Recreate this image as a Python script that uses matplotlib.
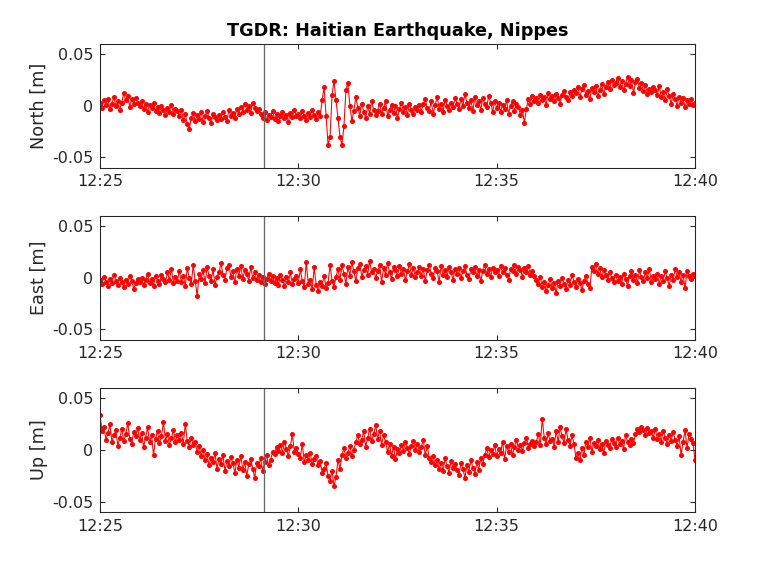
import numpy as np
import matplotlib
matplotlib.use('Agg')
import matplotlib.pyplot as plt
import matplotlib.dates as mdates

# 3 s samples from 12:25:00 to 12:40:00, displacement in mm
north_mm = [
    3, -2, 5, 1, 6, -3, 2, 8, 0, 4, -4, 3, 12, 5, 9, -1, 6, 2, 7, 3,
    0, 4, -3, 2, -6, 1, -2, 3, -5, -1, -7, 0, -4, -9, -2, -6, 1, -8, -3, -5,
    -10, -4, -14, -8, -18, -23, -12, -7, -15, -9, -13, -6, -16, -10, -5, -12, -17, -8, -11, -14,
    -9, -13, -6, -11, -15, -4, -10, -7, -12, -3, -8, -1, -6, 2, -4, 0, -7, 3, -2, -5,
    -3, -8, -12, -6, -14, -9, -11, -5, -13, -8, -15, -10, -6, -12, -9, -16, -7, -11, -4, -10,
    -8, -12, -5, -10, -14, -7, -11, -4, -9, -13, -6, -10, 5, 18, -10, -38, -30, 10, 24, 5,
    -12, -30, -38, -20, 15, 22, 0, -15, -5, 8, -2, -10, 2, -6, -12, 0, -8, 4, -4, -9,
    -5, 2, -8, -2, 4, -10, -4, 1, -7, 0, -12, -3, 3, -6, -1, -9, 2, -4, -8, -1,
    -4, 1, -6, 2, 6, -2, -5, 4, -8, 1, 8, -3, 2, -6, 5, 0, -4, 3, -1, 7,
    2, -3, 6, 0, 11, 3, -2, 5, -5, 8, 1, 4, -4, 7, 2, -1, 9, 3, -6, 4,
    -2, 3, -6, 1, -3, 5, -8, 0, 4, -5, 2, -1, -9, -4, -17, -3, 6, 2, 9, 4,
    7, 3, 10, 5, 8, 1, 12, 6, 9, 4, 11, 7, 2, 10, 14, 8, 5, 13, 9, 15,
    12, 18, 8, 16, 20, 10, 14, 6, 17, 13, 19, 9, 15, 21, 11, 18, 23, 16, 25, 20,
    22, 27, 18, 24, 15, 21, 28, 19, 25, 12, 23, 26, 17, 22, 14, 20, 11, 16, 13, 18,
    15, 10, 19, 8, 13, 5, 16, 9, 2, 11, 6, 0, 8, 3, 7, -1, 5, 2, 6, 1,
    3,
]
east_mm = [
    -2, -6, 1, -4, -8, -1, -5, 3, -3, -7, 0, -4, -9, -2, -6, 2, -3, -11, -5, -1,
    -4, 0, -7, -2, 4, -5, -1, -8, 2, -3, -6, 3, -1, -4, 5, -2, 8, -5, 1, -3,
    6, -4, 2, -8, 9, 0, -6, 12, -3, -18, 4, -1, 7, -5, 10, 2, -3, 8, -7, 1,
    5, 14, 3, -2, 9, 12, 1, 6, -4, 8, 2, 11, -1, 7, 4, -3, 10, 0, 5, -2,
    3, -4, 1, -6, -1, 4, -3, 2, -5, 0, -7, 3, -2, -8, 1, -4, 5, -6, -1, 2,
    -5, 8, -3, -9, 15, -6, -2, -11, 10, -7, -13, -4, -8, 2, -10, -5, 12, -3, -9, 1,
    8, -2, 12, 4, -6, 10, 2, 15, 6, -3, 9, 13, 1, 7, 11, 3, 16, 5, 8, 0,
    6, 12, -4, 9, 3, 14, 5, -1, 10, 7, 2, 11, 4, 8, -2, 6, 13, 3, 9, 1,
    5, 10, 2, 8, -3, 7, 12, 4, 0, 9, 6, -4, 11, 3, 7, 1, 10, 5, -2, 8,
    4, 9, 0, 6, 11, 3, -1, 8, 5, 10, 2, 7, -3, 6, 12, 4, 8, 1, 9, 5,
    7, 2, 11, 5, 9, 3, -2, 8, 6, 12, 4, 10, 7, 1, 9, 5, 11, 3, 6, 2,
    -2, -6, 1, -9, -4, -13, -7, -1, -10, -5, -15, -3, -8, 0, -6, -11, -2, -7, 3, -4,
    -9, -1, -5, -12, -3, 2, -6, -10, 10, 6, 13, 4, 9, 1, 7, 3, -2, 5, 0, -4,
    3, -3, 1, -6, 4, -1, -8, 2, 6, -2, 3, -5, 7, 1, -3, 5, 0, 8, -4, 2,
    -1, 4, -6, 2, -3, 6, 0, -8, 3, -2, 8, 1, 5, -4, 3, -10, 6, 2, -1, 4,
    2,
]
up_mm = [
    34, 18, 22, 10, 16, 25, 8, 14, 19, 4, 12, 20, 9, 15, 26, 11, 6, 17, 13, 21,
    10, 16, 3, 12, 22, 8, 14, -5, 11, 18, 7, 13, 27, 9, 15, 5, 12, 19, 8, 14,
    10, 16, 6, 25, 9, 3, 12, 5, 8, -2, 4, -6, 0, -10, -4, -15, -8, -12, -3, -18,
    -9, -14, -5, -20, -11, -16, -7, -13, -22, -10, -17, -6, -19, -12, -25, -14, -9, -18, -27, -13,
    -16, -8, -20, -12, -5, -15, -10, -2, -4, 3, -1, 5, -3, 8, 1, -6, 4, 15, -2, 2,
    -4, -8, 6, -12, -5, -10, -3, -14, -9, -6, -15, -11, -22, -18, -13, -25, -30, -20, -35, -26,
    -10, -18, -5, 2, -8, -3, 4, -6, 0, 8, 14, 6, 10, 18, 3, 12, 20, 9, 15, 24,
    11, 18, 5, 14, 8, -2, 6, -6, 3, -9, 1, -3, 5, -1, 8, 2, -4, 4, 9, 0,
    6, -2, 3, 10, -5, 4, -8, -12, -6, -15, -10, -18, -13, -20, -8, -16, -22, -11, -17, -14,
    -19, -24, -13, -18, -27, -15, -21, -10, -17, -23, -12, -19, -8, -14, -5, 2, -7, 0, -4, 5,
    -6, 1, -3, 8, -9, 4, -2, 6, -5, 3, 10, 0, 5, -1, 7, 12, 2, 6, 9, 4,
    8, 15, 5, 30, 12, 6, 16, 9, 11, 3, 18, 8, 22, 13, 7, 20, 10, 4, 14, 6,
    -8, -3, -10, 2, -5, 8, 3, 12, -2, 7, 4, 10, 1, 6, -3, 9, 5, 2, 11, 7,
    3, 12, 6, 9, 1, 14, 8, 5, 11, 7, 15, 20, 17, 22, 19, 14, 21, 16, 18, 12,
    20, 11, 15, 8, 18, 12, 6, 14, 9, 17, 10, 4, 13, -5, 8, 19, 2, 15, 11, 7,
    -10,
]
labels = ['North [m]', 'East [m]', 'Up [m]']
title = 'TGDR: Haitian Earthquake, Nippes'
event_time = np.datetime64('2021-08-14T12:29:08')

t0 = np.datetime64('2021-08-14T12:25:00')
t = t0 + np.arange(len(north_mm)) * np.timedelta64(3, 's')
series = [np.array(north_mm) / 1000, np.array(east_mm) / 1000, np.array(up_mm) / 1000]

dark = (0.15, 0.15, 0.15)
fig = plt.figure(figsize=(8, 6), dpi=96)
bottoms = [0.7089, 0.4102, 0.1111]

for i, (vals, lab) in enumerate(zip(series, labels)):
    ax = fig.add_axes([0.1302, bottoms[i], 0.7747, 0.2155])
    ax.plot(t, vals, 'r.-', markersize=5.5, linewidth=0.8)
    ax.axvline(event_time, color='#6a6a6a', linewidth=1.0)
    ax.set_xlim(t0, t0 + np.timedelta64(900, 's'))
    ax.set_ylim(-0.06, 0.06)
    ax.set_yticks([-0.05, 0, 0.05])
    ax.set_yticklabels(['-0.05', '0', '0.05'])
    ax.xaxis.set_major_locator(mdates.MinuteLocator(byminute=[25, 30, 35, 40]))
    ax.xaxis.set_major_formatter(mdates.DateFormatter('%H:%M'))
    ax.tick_params(direction='in', length=4, width=0.8, top=True, right=True,
                   labelsize=12, colors=dark, pad=5)
    for s in ax.spines.values():
        s.set_color(dark)
        s.set_linewidth(0.8)
    ax.set_ylabel(lab, fontsize=13.2, color=dark, labelpad=3)
    if i == 0:
        ax.set_title(title, fontsize=13.2, fontweight='bold', pad=6)

fig.savefig('out.png', dpi=96)
